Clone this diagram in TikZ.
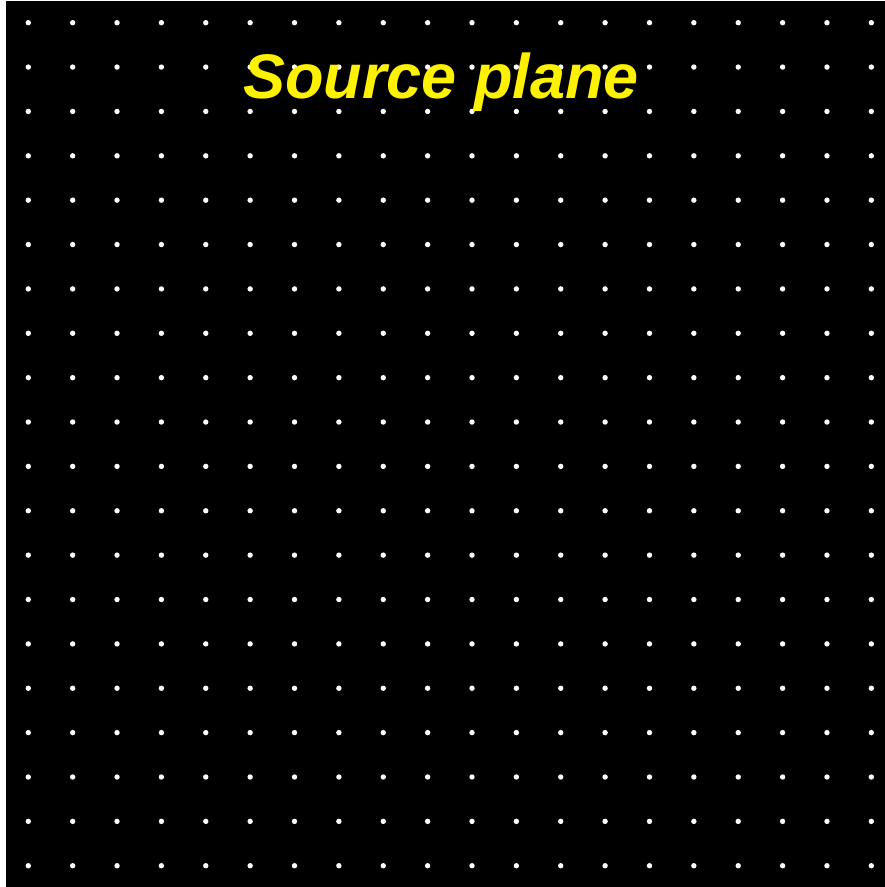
\documentclass[tikz,border=0pt]{standalone}
\usepackage{fontspec}
\setmainfont{Liberation Sans}
\begin{document}
\begin{tikzpicture}[x=1pt,y=-1pt,
  dotstyle/.style={fill=white,draw=none},
  titlestyle/.style={text=yellow,font=\fontsize{63}{65}\selectfont\bfseries\itshape,inner sep=0pt,anchor=base}]
\fill[white] (0,0) rectangle (885,887);
\useasboundingbox (0,0) rectangle (885,887);
\fill[black] (6,1) rectangle (885,887);
\foreach \i in {0,...,19}{
  \foreach \j in {0,...,19}{
    \fill[dotstyle] ({28.3+44.37*\i},{22.7+44.37*\j}) circle (2.7);
  }
}
\node[titlestyle] (title) at (441,98) {Source plane};
\end{tikzpicture}
\end{document}
